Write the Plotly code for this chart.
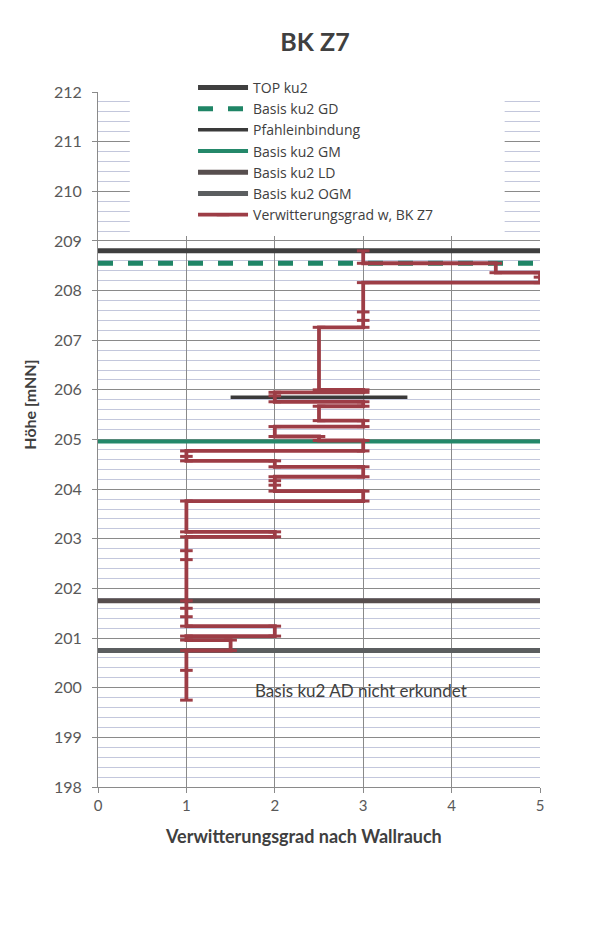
import plotly.graph_objects as go

# --- data ---------------------------------------------------------------
ref_names = ["TOP ku2", "Basis ku2 GD", "Pfahleinbindung", "Basis ku2 GM",
             "Basis ku2 LD", "Basis ku2 OGM"]
ref_heights = [208.80, 208.55, 205.85, 204.96, 201.75, 200.75]
ref_x_start = [0, 0, 1.5, 0, 0, 0]
ref_x_end = [5, 5, 3.5, 5, 5, 5]
ref_colors = ["#3f3f3f", "#1f8566", "#3a3a3a", "#24886a", "#574e4e", "#5b5e60"]
ref_widths = [5, 5, 3.5, 4, 5, 5]
ref_dash = ["solid", "dash", "solid", "solid", "solid", "solid"]

w_name = "Verwitterungsgrad w, BK Z7"
w_height = [208.80, 208.55, 208.55, 208.36, 208.36, 208.27, 208.16, 208.16,
            207.57, 207.40, 207.26, 207.26, 206.00,
            206.00, 205.95, 205.95, 205.88, 205.76, 205.76, 205.67, 205.67,
            205.38, 205.38, 205.26, 205.26, 205.06, 205.06, 204.98, 204.98,
            204.77, 204.77, 204.66, 204.57, 204.57, 204.45, 204.45, 204.25,
            204.25, 204.17, 204.08, 203.96, 203.96, 203.76, 203.76, 203.14,
            203.14, 203.04, 203.04, 202.76, 202.58, 201.75, 201.60, 201.43,
            201.24, 201.24, 201.04, 201.04, 200.96, 200.96, 200.75, 200.75,
            200.35, 199.75]
w_grade = [3, 3, 4.5, 4.5, 5, 5, 5, 3,
           3, 3, 3, 2.5, 2.5,
           3, 3, 2, 2, 2, 3, 3, 2.5,
           2.5, 3, 3, 2, 2, 2.5, 2.5, 3,
           3, 1, 1, 1, 2, 2, 3, 3,
           2, 2, 2, 2, 3, 3, 1, 1,
           2, 2, 1, 1, 1, 1, 1, 1,
           1, 2, 2, 1, 1, 1.5, 1.5, 1,
           1, 1]

title_text = "BK Z7"
x_title = "Verwitterungsgrad nach Wallrauch"
y_title = "Höhe [mNN]"
y_title_pos = 205.7
note_text = "Basis ku2 AD nicht erkundet"
note_pos = (2.98, 199.95)

FONT = "Lato"
TXT = "#404040"

fig = go.Figure()

for i, name in enumerate(ref_names):
    fig.add_trace(go.Scatter(
        x=[ref_x_start[i], ref_x_end[i]], y=[ref_heights[i], ref_heights[i]],
        mode="lines", name=name,
        line=dict(color=ref_colors[i], width=ref_widths[i], dash=ref_dash[i]),
        hoverinfo="skip"))

fig.add_trace(go.Scatter(
    x=w_grade, y=w_height, mode="lines+markers", name=w_name,
    line=dict(color="#9d3d46", width=3.8),
    marker=dict(symbol="line-ew", size=9, line=dict(color="#9d3d46", width=3))))

# white area behind the legend (covers gridlines)
fig.add_shape(type="rect", xref="x", yref="y", x0=0.36, x1=4.6, y0=209.1, y1=212,
              fillcolor="white", line=dict(width=0), layer="between")

# faint chart-area frame (top and left edges)
fig.add_shape(type="line", xref="paper", yref="paper", x0=-0.208, x1=1.131,
              y0=1.1223, y1=1.1223, line=dict(color="#dedede", width=1.5))
fig.add_shape(type="line", xref="paper", yref="paper", x0=-0.208, x1=-0.208,
              y0=1.1223, y1=-0.19, line=dict(color="#e6e6e6", width=1.5))

fig.add_annotation(x=note_pos[0], y=note_pos[1], text=note_text, showarrow=False,
                   font=dict(family=FONT, size=17, color=TXT))

# axis titles as annotations
fig.add_annotation(x=-0.154, xref="paper", y=y_title_pos, yref="y", xanchor="center",
                   yanchor="middle", text="<b>" + y_title + "</b>", textangle=-90,
                   showarrow=False, font=dict(family=FONT, size=16, color=TXT))
fig.add_annotation(x=0.466, xref="paper", y=-0.070, yref="paper", xanchor="center",
                   yanchor="middle", text="<b>" + x_title + "</b>", showarrow=False,
                   font=dict(family=FONT, size=18, color=TXT))

fig.update_layout(
    width=595, height=923,
    paper_bgcolor="white", plot_bgcolor="white",
    margin=dict(l=90, r=63, t=84, b=144),
    font=dict(family=FONT, color=TXT),
    title=dict(text="<b>" + title_text + "</b>", x=0.516, xanchor="center",
               y=0.963, yanchor="middle", font=dict(size=25, color=TXT, family=FONT)),
    showlegend=True,
    legend=dict(x=0.215, xanchor="left", y=1.029, yanchor="top",
                bgcolor="rgba(0,0,0,0)",
                font=dict(size=14, color=TXT, family="Open Sans"),
                itemwidth=50),
)

fig.update_xaxes(range=[0, 5], dtick=1, showgrid=True, gridcolor="#8a8a8a", gridwidth=1,
                 zeroline=False, showline=True, linecolor="#8a8a8a", mirror=False,
                 ticks="outside", ticklen=5, tickcolor="#8a8a8a",
                 tickfont=dict(size=15, color="#595959", family=FONT))
fig.update_yaxes(range=[198, 212], dtick=1, showgrid=True, gridcolor="#8a8a8a", gridwidth=1,
                 zeroline=False, showline=True, linecolor="#8a8a8a",
                 ticks="outside", ticklen=5, tickcolor="#8a8a8a",
                 ticklabelstandoff=7,
                 minor=dict(dtick=0.2, showgrid=True, gridcolor="#c3c7dc", gridwidth=1),
                 tickfont=dict(size=16, color="#595959", family=FONT))

fig.write_html("out.html")
